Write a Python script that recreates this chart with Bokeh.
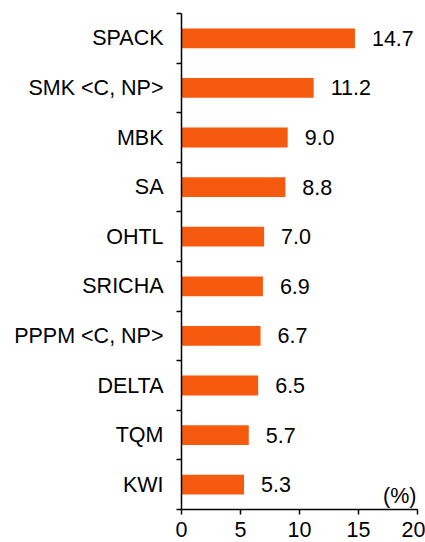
from bokeh.plotting import figure
from bokeh.models import Range1d, FixedTicker, Label, ColumnDataSource, LabelSet
from bokeh.core.properties import value
from bokeh.embed import file_html
from bokeh.resources import INLINE

categories = ["SPACK", "SMK <C, NP>", "MBK", "SA", "OHTL", "SRICHA",
              "PPPM <C, NP>", "DELTA", "TQM", "KWI"]
values = [14.7, 11.2, 9.0, 8.8, 7.0, 6.9, 6.7, 6.5, 5.7, 5.3]
x_ticks = [0, 5, 10, 15, 20]
unit_label = "(%)"

FONT = "Liberation Sans"
FS = "21.5px"
BAR = "#F65A0E"

n = len(categories)
pos = [n - i - 0.5 for i in range(n)]
src = ColumnDataSource(dict(cat=categories, val=values, y=pos,
                            txt=["%.1f" % v for v in values]))

p = figure(width=425, height=542, output_backend="svg", toolbar_location=None,
           x_range=Range1d(0, 20), y_range=Range1d(0, n),
           min_border_left=181, min_border_right=8, min_border_top=13,
           min_border_bottom=33)
p.outline_line_color = None
p.xgrid.grid_line_color = None
p.ygrid.grid_line_color = None
p.background_fill_color = "white"
p.border_fill_color = "white"

p.hbar(y="y", right="val", left=0, height=0.4, source=src,
       fill_color=BAR, line_color=None)

labels = LabelSet(x="val", y="y", text="txt", source=src, x_offset=17,
                  text_baseline="middle", text_align="left",
                  text_font=value(FONT), text_font_size=value(FS),
                  text_color="black")
p.add_layout(labels)

p.add_layout(Label(x=20, y=0, x_offset=-1, y_offset=2, text=unit_label,
                   text_align="right", text_baseline="bottom",
                   text_font=FONT, text_font_size=FS, text_color="black"))

xa = p.xaxis[0]
xa.ticker = FixedTicker(ticks=x_ticks)
xa.major_tick_out = 5
xa.major_tick_in = 0
xa.minor_tick_line_color = None
xa.axis_line_width = 1.5
xa.major_tick_line_width = 1.5
xa.major_label_text_font = FONT
xa.major_label_text_font_size = FS
xa.major_label_text_color = "black"
xa.major_label_standoff = 7

ya = p.yaxis[0]
ya.ticker = FixedTicker(ticks=pos, minor_ticks=list(range(n + 1)))
ya.major_label_overrides = {y: c for y, c in zip(pos, categories)}
ya.major_tick_out = 0
ya.major_tick_in = 0
ya.minor_tick_out = 5
ya.minor_tick_in = 0
ya.minor_tick_line_width = 1.5
ya.minor_tick_line_color = "black"
ya.axis_line_width = 1.5
ya.major_label_text_font = FONT
ya.major_label_text_font_size = FS
ya.major_label_text_color = "black"
ya.major_label_standoff = 13

open("out.html", "w").write(file_html(p, INLINE))
